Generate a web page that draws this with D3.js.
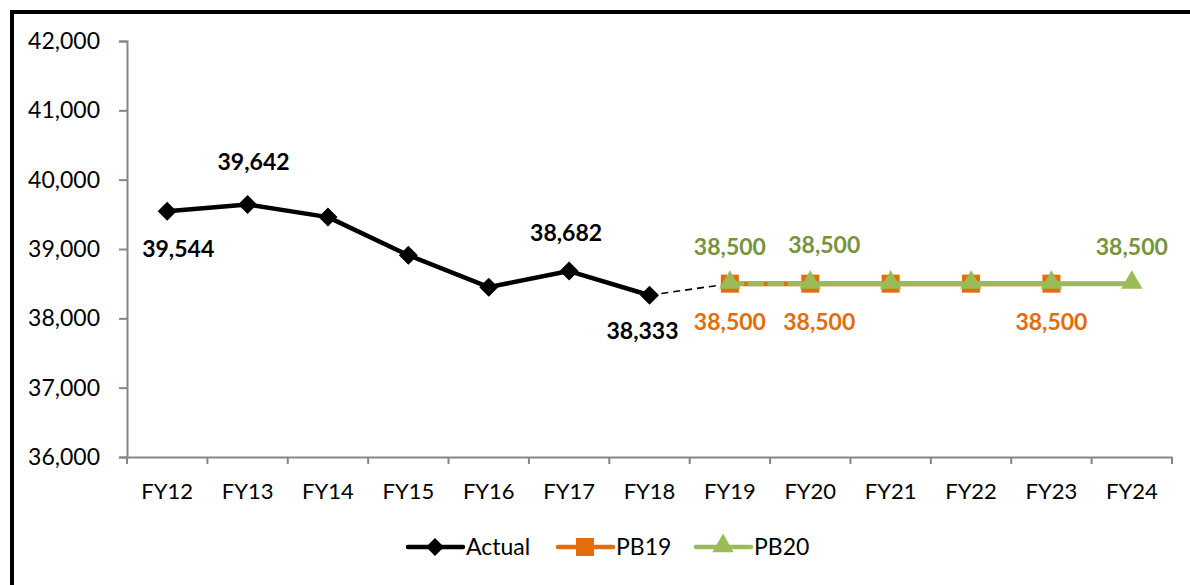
<!DOCTYPE html>
<html><head><meta charset="utf-8">
<script src="https://cdn.jsdelivr.net/npm/d3@7"></script>
<style>body{margin:0;background:#fff}svg{display:block}</style>
</head><body>
<svg id="c" width="1190" height="585"></svg>
<script>
const categories = ["FY12","FY13","FY14","FY15","FY16","FY17","FY18","FY19","FY20","FY21","FY22","FY23","FY24"];
const actualCats = ["FY12","FY13","FY14","FY15","FY16","FY17","FY18"];
const actualVals = [39544, 39642, 39460, 38910, 38450, 38682, 38333];
const pb19Cats = ["FY19","FY20","FY21","FY22","FY23"];
const pb19Vals = [38500, 38500, 38500, 38500, 38500];
const pb20Cats = ["FY19","FY20","FY21","FY22","FY23","FY24"];
const pb20Vals = [38500, 38500, 38500, 38500, 38500, 38500];
const yTicks = [36000,37000,38000,39000,40000,41000,42000];
const actualLabelCats = ["FY12","FY13","FY17","FY18"];
const pb19LabelCats = ["FY19","FY20","FY23"];
const pb20LabelCats = ["FY19","FY20","FY24"];
const legendNames = ["Actual","PB19","PB20"];

const svg = d3.select("#c");
const ff = "Lato, 'Open Sans', sans-serif";

// outer frame
svg.append("rect").attr("x",12).attr("y",12).attr("width",1200).attr("height",600)
  .attr("fill","none").attr("stroke","#000").attr("stroke-width",4);

const x = d3.scaleBand().domain(categories).range([127, 1172]).paddingInner(0).paddingOuter(0);
const y = d3.scaleLinear().domain([36000,42000]).range([457, 41]);
const cx = c => x(c) + x.bandwidth()/2;
const fmt = d3.format(",");

// axes
const yAxis = svg.append("g").attr("transform","translate(127,0)")
  .call(d3.axisLeft(y).tickValues(yTicks).tickFormat(fmt).tickSizeOuter(0).tickSize(8).tickPadding(19));
const xAxis = svg.append("g").attr("transform","translate(0,457)")
  .call(d3.axisBottom(x).tickSize(0).tickPadding(26));
[yAxis,xAxis].forEach(g=>{
  g.select(".domain").attr("stroke","#868686").attr("stroke-width",2);
  g.selectAll(".tick line").attr("stroke","#868686").attr("stroke-width",2);
  g.selectAll("text").attr("fill","#000").attr("font-family",ff).attr("font-size",23);
});
xAxis.selectAll("text").attr("font-size",22);
// category boundary ticks
xAxis.selectAll(".bt").data(categories.concat(["end"])).enter().append("line")
  .attr("x1",(d,i)=>127+i*x.bandwidth()).attr("x2",(d,i)=>127+i*x.bandwidth())
  .attr("y1",0).attr("y2",7).attr("stroke","#868686").attr("stroke-width",2);

const line = d3.line().x(d=>cx(d[0])).y(d=>y(d[1]));

// connector dashed
svg.append("path").attr("d", line([[actualCats[actualCats.length-1], actualVals[actualVals.length-1]],[pb19Cats[0], pb19Vals[0]]]))
  .attr("stroke","#000").attr("stroke-width",1.6).attr("stroke-dasharray","7,5").attr("fill","none");

// PB19
const pb19 = pb19Cats.map((c,i)=>[c,pb19Vals[i]]);
svg.append("path").attr("d",line(pb19)).attr("stroke","#E46C0A").attr("stroke-width",5).attr("fill","none");
svg.selectAll(".sq").data(pb19).enter().append("rect")
  .attr("x",d=>cx(d[0])-9).attr("y",d=>y(d[1])-9).attr("width",18).attr("height",18).attr("fill","#E46C0A");

// PB20
const pb20 = pb20Cats.map((c,i)=>[c,pb20Vals[i]]);
svg.append("path").attr("d",line(pb20.slice(0,2))).attr("stroke","#9BBB59").attr("stroke-width",5)
  .attr("stroke-dasharray","12,8").attr("stroke-linecap","round").attr("fill","none");
svg.append("path").attr("d",line(pb20.slice(1))).attr("stroke","#9BBB59").attr("stroke-width",5).attr("fill","none");
const tri = d3.symbol().type(d3.symbolTriangle).size(200);
svg.selectAll(".tr").data(pb20).enter().append("path")
  .attr("d",tri).attr("transform",d=>`translate(${cx(d[0])},${y(d[1])-1})`).attr("fill","#9BBB59");

// Actual
const act = actualCats.map((c,i)=>[c,actualVals[i]]);
svg.append("path").attr("d",line(act)).attr("stroke","#000").attr("stroke-width",4.5).attr("fill","none").attr("stroke-linejoin","round");
svg.selectAll(".dm").data(act).enter().append("path")
  .attr("d","M0,-9.5L9.5,0L0,9.5L-9.5,0Z").attr("transform",d=>`translate(${cx(d[0])},${y(d[1])})`).attr("fill","#000");

// labels
const lblSize = 23;
const actOff = {FY12:[11,38],FY13:[6,-42],FY17:[-3,-38],FY18:[-7,36]};
actualLabelCats.forEach(c=>{
  const v = actualVals[actualCats.indexOf(c)];
  svg.append("text").attr("x",cx(c)+actOff[c][0]).attr("y",y(v)+actOff[c][1]+8).attr("text-anchor","middle")
    .attr("font-family",ff).attr("font-weight","bold").attr("font-size",lblSize).attr("fill","#000").text(fmt(v));
});
const pb19Off = {FY19:0,FY20:9,FY23:0};
pb19LabelCats.forEach(c=>{
  const v = pb19Vals[pb19Cats.indexOf(c)];
  svg.append("text").attr("x",cx(c)+pb19Off[c]).attr("y",y(v)+46).attr("text-anchor","middle")
    .attr("font-family",ff).attr("font-weight","bold").attr("font-size",lblSize).attr("fill","#E46C0A").text(fmt(v));
});
const pb20Off = {FY19:0,FY20:14,FY24:0};
pb20LabelCats.forEach(c=>{
  const v = pb20Vals[pb20Cats.indexOf(c)];
  svg.append("text").attr("x",cx(c)+pb20Off[c]).attr("y",y(v)+(c==="FY20"?-31:-29)).attr("text-anchor","middle")
    .attr("font-family",ff).attr("font-weight","bold").attr("font-size",lblSize).attr("fill","#77933C").text(fmt(v));
});

// legend
const lg = svg.append("g");
const lx = [408, 558, 696];
const cols = ["#000","#E46C0A","#9BBB59"];
legendNames.forEach((n,i)=>{
  const g = lg.append("g").attr("transform",`translate(${lx[i]},547)`);
  g.append("line").attr("x1",0).attr("x2",55).attr("y1",0).attr("y2",0).attr("stroke",cols[i]).attr("stroke-width",4.5).attr("stroke-linecap","round");
  if(i===0) g.append("path").attr("d","M0,-9L9,0L0,9L-9,0Z").attr("transform","translate(27,0)").attr("fill","#000");
  if(i===1) g.append("rect").attr("x",18).attr("y",-9).attr("width",18).attr("height",18).attr("fill","#E46C0A");
  if(i===2) g.append("path").attr("d",tri).attr("transform","translate(27,-1)").attr("fill","#9BBB59");
  g.append("text").attr("x",58).attr("y",8).attr("font-family",ff).attr("font-size",23).attr("fill","#000").text(n);
});
</script>
</body></html>
